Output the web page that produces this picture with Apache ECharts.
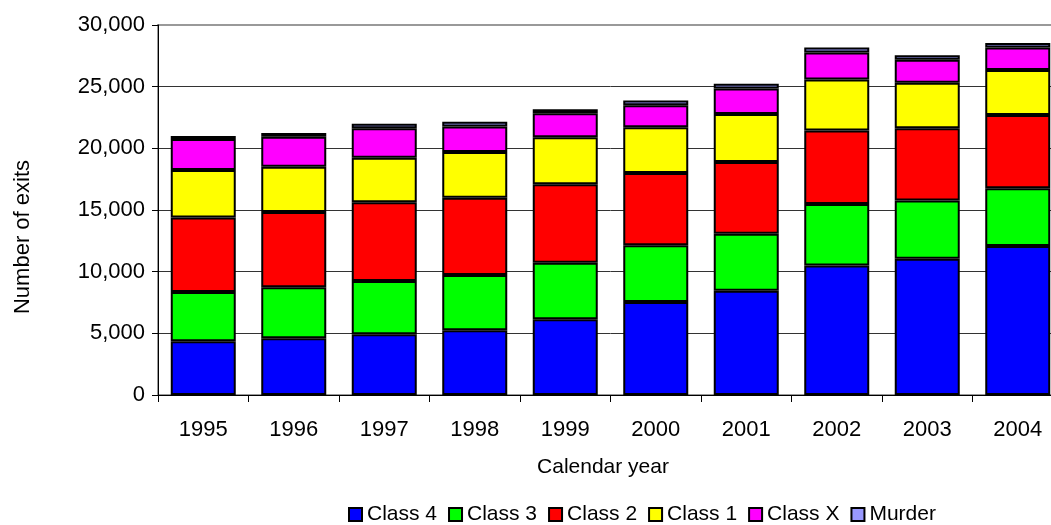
<!DOCTYPE html>
<html>
<head>
<meta charset="utf-8">
<title>Number of exits by calendar year</title>
<script src="https://cdn.jsdelivr.net/npm/echarts@6/dist/echarts.min.js"></script>
<style>
  html, body { margin: 0; padding: 0; background: #fff; overflow: hidden; }
  #chart { width: 1063px; height: 525px; }
</style>
</head>
<body>
<div id="chart"></div>
<script>
// Calendar years on the category axis
const years = ['1995', '1996', '1997', '1998', '1999', '2000', '2001', '2002', '2003', '2004'];

// Exits per year, by offence class (stacked bottom to top)
const class4 = [4350, 4600, 4920, 5240, 6140, 7540, 8460, 10510, 11050, 12080];
const class3 = [4000, 4130, 4320, 4490, 4590, 4600, 4620, 4970, 4730, 4680];
const class2 = [6050, 6100, 6380, 6270, 6350, 5870, 5810, 5970, 5840, 5950];
const class1 = [3850, 3680, 3620, 3700, 3810, 3700, 3890, 4140, 3700, 3650];
const classX = [2500, 2430, 2380, 2080, 1950, 1780, 2080, 2190, 1870, 1810];
const murder = [250, 300, 380, 380, 320, 380, 380, 400, 350, 380];

const seriesNames = ['Class 4', 'Class 3', 'Class 2', 'Class 1', 'Class X', 'Murder'];
const seriesData = [class4, class3, class2, class1, classX, murder];
const seriesColors = ['#0000FF', '#00FF00', '#FF0000', '#FFFF00', '#FF00FF', '#9999FF'];

const FONT = "'Liberation Sans', Arial, Helvetica, sans-serif";

const chart = echarts.init(document.getElementById('chart'), null, { renderer: 'canvas' });

chart.setOption({
  animation: false,
  backgroundColor: '#ffffff',
  textStyle: { fontFamily: FONT, color: '#000' },
  grid: {
    left: 158,
    right: 0,
    top: 25,
    height: 370,
    show: true,
    borderColor: '#999999',
    borderWidth: 2,
    backgroundColor: 'transparent',
    containLabel: false,
    outerBoundsMode: 'none'
  },
  legend: {
    left: 343,
    top: 499,
    padding: 5,
    itemWidth: 13,
    itemHeight: 13,
    itemGap: 11,
    icon: 'rect',
    textStyle: { fontFamily: FONT, fontSize: 21, color: '#000' },
    data: seriesNames
  },
  xAxis: {
    type: 'category',
    data: years,
    boundaryGap: true,
    axisLine: { show: true, lineStyle: { color: '#000', width: 1 } },
    axisTick: { show: true, length: 7, lineStyle: { color: '#000', width: 1 } },
    axisLabel: { fontFamily: FONT, fontSize: 22, color: '#000', margin: 24 },
    splitLine: { show: false },
    name: 'Calendar year',
    nameLocation: 'middle',
    nameGap: 62,
    nameTextStyle: { fontFamily: FONT, fontSize: 21, color: '#000', padding: [0, 15, 0, 0] }
  },
  yAxis: {
    type: 'value',
    min: 0,
    max: 30000,
    interval: 5000,
    axisLine: { show: true, lineStyle: { color: '#000', width: 1 } },
    axisTick: { show: true, length: 6, lineStyle: { color: '#000', width: 1 } },
    axisLabel: {
      fontFamily: FONT,
      fontSize: 22,
      color: '#000',
      margin: 13,
      formatter: v => v.toLocaleString('en-US')
    },
    splitLine: {
      show: true,
      showMinLine: false,
      showMaxLine: false,
      lineStyle: { color: '#333333', width: 1 }
    }
  },
  graphic: [{
    type: 'text',
    x: 23,
    y: 237,
    rotation: Math.PI / 2,
    style: {
      text: 'Number of exits',
      fontFamily: FONT,
      fontSize: 22,
      fill: '#000',
      textAlign: 'center',
      textVerticalAlign: 'middle'
    }
  }],
  series: seriesNames.map((name, i) => ({
    name: name,
    type: 'bar',
    stack: 'exits',
    barWidth: 65,
    data: seriesData[i],
    itemStyle: {
      color: seriesColors[i],
      borderColor: '#000',
      borderWidth: 2
    },
    emphasis: { disabled: true }
  }))
});
</script>
</body>
</html>
